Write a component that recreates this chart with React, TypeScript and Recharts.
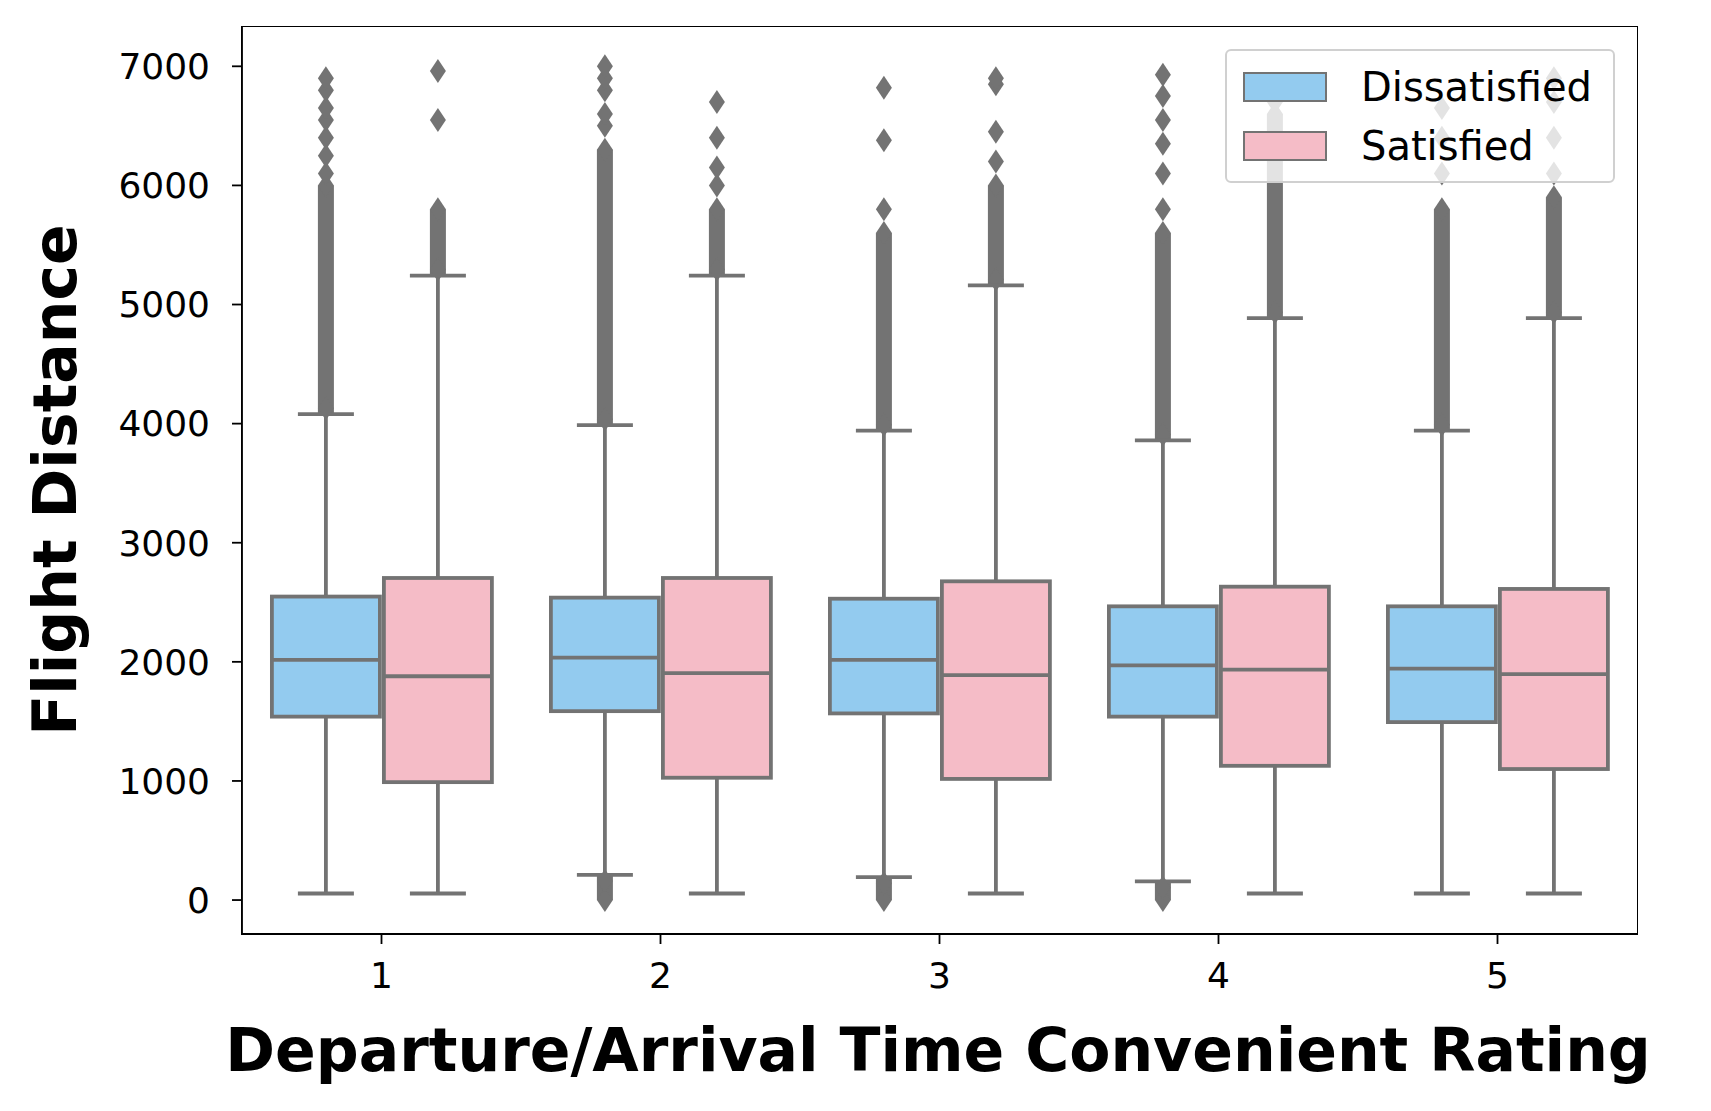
import React from 'react'
import { ComposedChart, Bar, XAxis, YAxis } from 'recharts'

const categories = ['1', '2', '3', '4', '5']

// Dissatisfied
const dQ1 = [1540, 1586, 1567, 1540, 1494]
const dMed = [2017, 2035, 2017, 1971, 1943]
const dQ3 = [2548, 2539, 2530, 2466, 2466]
const dLow = [55, 211, 192, 156, 55]
const dHigh = [4079, 3987, 3941, 3859, 3941]
const dDenseTop = [6000, 6300, 5600, 5600, 5800]
const dLowOutMin: (number | null)[] = [null, 0, 0, 0, null]
const dSparse = [
  [6100, 6250, 6400, 6550, 6650, 6800, 6900],
  [6500, 6600, 6800, 6900, 7000],
  [5800, 6380, 6820],
  [5800, 6100, 6350, 6550, 6750, 6930],
  [6100, 6400, 6650],
]

// Satisfied
const sQ1 = [990, 1027, 1017, 1127, 1100]
const sMed = [1879, 1906, 1888, 1934, 1897]
const sQ3 = [2704, 2704, 2676, 2631, 2612]
const sLow = [55, 55, 55, 55, 55]
const sHigh = [5243, 5243, 5160, 4885, 4885]
const sDenseTop = [5800, 5800, 6000, 6600, 5900]
const sLowOutMin: (number | null)[] = [null, null, null, null, null]
const sSparse = [
  [6550, 6960],
  [6000, 6150, 6400, 6700],
  [6200, 6450, 6850, 6900],
  [6700],
  [6100, 6400, 6700, 6900],
]

const yTicks = [0, 1000, 2000, 3000, 4000, 5000, 6000, 7000]

const BLUE = '#93CBEF'
const PINK = '#F5BCC7'
const GRAY = '#737373'
const FONT = 'DejaVu Sans'
const LW = 3.8

const data = categories.map((c, i) => ({
  cat: c,
  d: { q1: dQ1[i], med: dMed[i], q3: dQ3[i], low: dLow[i], high: dHigh[i], dense: dDenseTop[i], lowOut: dLowOutMin[i], sparse: dSparse[i] },
  s: { q1: sQ1[i], med: sMed[i], q3: sQ3[i], low: sLow[i], high: sHigh[i], dense: sDenseTop[i], lowOut: sLowOutMin[i], sparse: sSparse[i] },
}))

const diamond = (cx: number, cy: number, key: string) => (
  <polygon key={key} points={`${cx},${cy - 12} ${cx + 8},${cy} ${cx},${cy + 12} ${cx - 8},${cy}`} fill={GRAY} />
)

const boxShape = (key: 'd' | 's', fill: string) => (props: any) => {
  const { x, y, width, height, payload } = props
  const b = payload[key]
  const k = height / (b.q3 - b.q1)
  const py = (v: number) => y + (b.q3 - v) * k
  const cx = x + width / 2
  const cap = width / 4
  return (
    <g>
      {/* outliers */}
      <rect x={cx - 8} y={py(b.dense)} width={16} height={py(b.high) - py(b.dense)} fill={GRAY} />
      {diamond(cx, py(b.dense), 'dt')}
      {diamond(cx, py(b.high) - 6, 'hb')}
      {b.sparse.map((v: number, i: number) => diamond(cx, py(v), 'sp' + i))}
      {b.lowOut !== null && (
        <>
          <rect x={cx - 8} y={py(b.low)} width={16} height={py(b.lowOut) - py(b.low)} fill={GRAY} />
          {diamond(cx, py(b.lowOut), 'lo')}
          {diamond(cx, py(b.low) + 6, 'lt')}
        </>
      )}
      {/* whiskers */}
      <line x1={cx} x2={cx} y1={py(b.high)} y2={py(b.q3)} stroke={GRAY} strokeWidth={LW} />
      <line x1={cx} x2={cx} y1={py(b.q1)} y2={py(b.low)} stroke={GRAY} strokeWidth={LW} />
      <line x1={cx - cap} x2={cx + cap} y1={py(b.high)} y2={py(b.high)} stroke={GRAY} strokeWidth={LW} />
      <line x1={cx - cap} x2={cx + cap} y1={py(b.low)} y2={py(b.low)} stroke={GRAY} strokeWidth={LW} />
      <rect x={x + 2} y={y} width={width - 4} height={height} fill={fill} stroke={GRAY} strokeWidth={LW} />
      <line x1={x + 2} x2={x + width - 2} y1={py(b.med)} y2={py(b.med)} stroke={GRAY} strokeWidth={LW} />
    </g>
  )
}

const legendItems = [
  { label: 'Dissatisfied', color: BLUE },
  { label: 'Satisfied', color: PINK },
]

export default function App() {
  return (
    <div style={{ position: 'relative', width: 1711, height: 1111, margin: -8, background: '#fff', fontFamily: FONT }}>
      <ComposedChart
        width={1711}
        height={1111}
        data={data}
        margin={{ top: 27, right: 74, left: 92, bottom: 117 }}
        barCategoryGap="10%"
        barGap={0}
      >
        <XAxis
          dataKey="cat"
          height={60}
          tick={{ fontSize: 36, fill: '#000', fontFamily: FONT }}
          tickLine={{ stroke: '#000', strokeWidth: 1.8 }}
          tickSize={10}
          tickMargin={18}
          axisLine={{ stroke: '#000', strokeWidth: 1.8 }}
        />
        <YAxis
          type="number"
          domain={[-285, 7330]}
          ticks={yTicks}
          width={150}
          allowDataOverflow
          tick={{ fontSize: 36, fill: '#000', fontFamily: FONT }}
          tickLine={{ stroke: '#000', strokeWidth: 1.8 }}
          tickSize={10}
          tickMargin={22}
          axisLine={{ stroke: '#000', strokeWidth: 1.8 }}
        />
        <Bar dataKey={(e: any) => [e.d.q1, e.d.q3]} shape={boxShape('d', BLUE)} isAnimationActive={false} />
        <Bar dataKey={(e: any) => [e.s.q1, e.s.q3]} shape={boxShape('s', PINK)} isAnimationActive={false} />
      </ComposedChart>
      {/* frame */}
      <div style={{ position: 'absolute', left: 241, top: 26, width: 1397, height: 909, border: '1.8px solid #000', boxSizing: 'border-box', pointerEvents: 'none' }} />
      {/* axis titles */}
      <div style={{ position: 'absolute', left: 938, top: 1050, transform: 'translate(-50%, -50%)', whiteSpace: 'nowrap', fontSize: 60, fontWeight: 'bold', color: '#000' }}>
        Departure/Arrival Time Convenient Rating
      </div>
      <div style={{ position: 'absolute', left: 55, top: 480, transform: 'translate(-50%, -50%) rotate(-90deg)', whiteSpace: 'nowrap', fontSize: 60, fontWeight: 'bold', color: '#000' }}>
        Flight Distance
      </div>
      {/* legend */}
      <div style={{ position: 'absolute', left: 1225, top: 49, width: 390, height: 134, boxSizing: 'border-box', border: '2px solid #d0d0d0', borderRadius: 6, background: 'rgba(255,255,255,0.8)', padding: '6px 0 0 16px' }}>
        {legendItems.map((it) => (
          <div key={it.label} style={{ display: 'flex', alignItems: 'center', height: 59 }}>
            <div style={{ width: 84, height: 30, background: it.color, border: `2px solid ${GRAY}`, boxSizing: 'border-box' }} />
            <span style={{ marginLeft: 34, fontSize: 40, color: '#000' }}>{it.label}</span>
          </div>
        ))}
      </div>
    </div>
  )
}
